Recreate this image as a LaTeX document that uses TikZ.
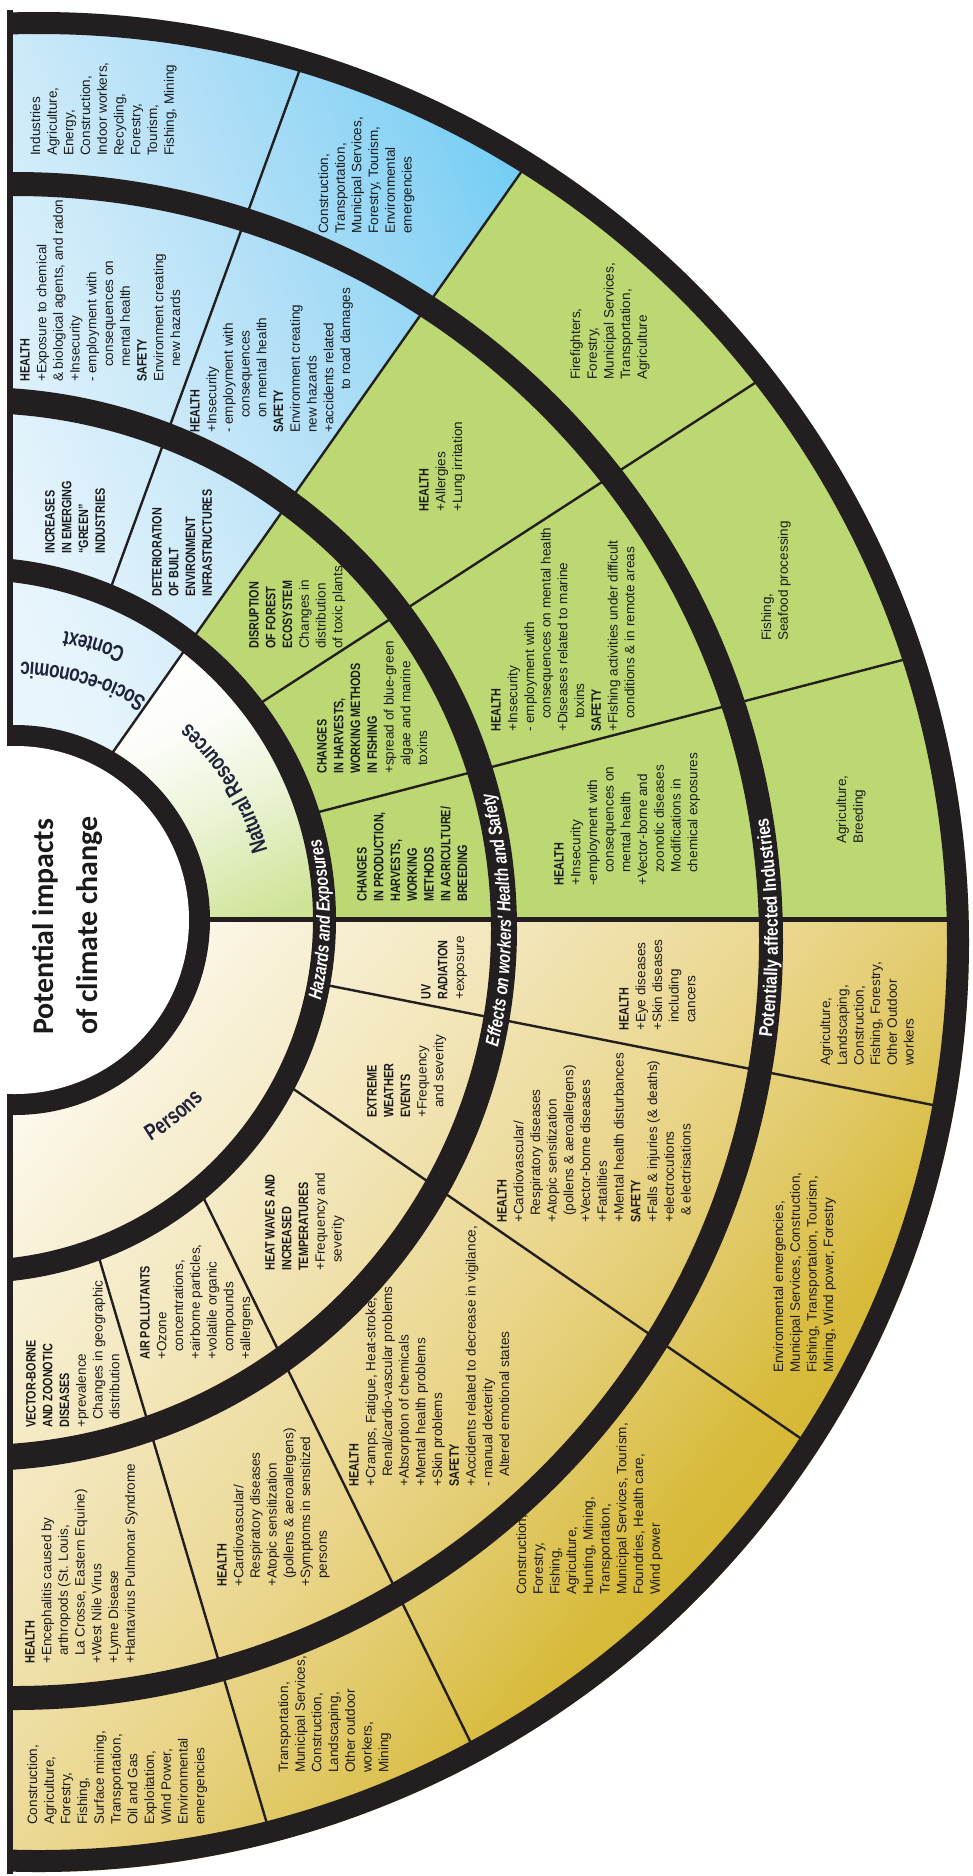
\documentclass[tikz,border=0pt]{standalone}
\usepackage{fontspec}
\setmainfont{Liberation Sans}
\newfontfamily\narrowfam[FakeStretch=0.8]{Liberation Sans}
\newfontfamily\labfam[FakeStretch=0.75]{Liberation Sans}
\newfontfamily\bandfam[FakeStretch=0.76]{Liberation Sans}
\newfontfamily\indfam[FakeStretch=0.82]{Liberation Sans}
\newfontfamily\titlefam{Carlito}
\usetikzlibrary{decorations.text}

\definecolor{bandc}{HTML}{231F20}
\definecolor{txt}{HTML}{1A1A1A}
\definecolor{navy}{HTML}{20243A}
\definecolor{grn}{HTML}{BCD873}
\definecolor{bl0}{HTML}{EEF7FD}
\definecolor{bl1}{HTML}{E6F4FC}
\definecolor{bl2}{HTML}{CFEBF9}
\definecolor{bl3}{HTML}{B4E0F7}
\definecolor{bl4}{HTML}{8DD4F5}
\definecolor{bl5}{HTML}{6ECCF4}
\definecolor{bl6}{HTML}{5FC7F2}
\definecolor{tn0}{HTML}{FEFCF6}
\definecolor{tn1}{HTML}{FDFAF0}
\definecolor{tn2}{HTML}{F8F1D8}
\definecolor{tn3}{HTML}{F3E7BD}
\definecolor{tn4}{HTML}{EDDC9E}
\definecolor{tn5}{HTML}{E8D384}
\definecolor{tn6}{HTML}{E0C864}
\definecolor{tn7}{HTML}{D8BB3C}
\definecolor{tn8}{HTML}{D4B52C}
\definecolor{gr0}{HTML}{FFFFFF}
\definecolor{gr1}{HTML}{FCFDF8}
\definecolor{gr2}{HTML}{EAF3D4}
\definecolor{gr3}{HTML}{CFE396}
\definecolor{gr4}{HTML}{C4DD84}

\pgfdeclarehorizontalshading{blueshade}{100bp}{color(0bp)=(bl0); color(37.5bp)=(bl0); color(41.6bp)=(bl1); color(45.5bp)=(bl2); color(49.3bp)=(bl3); color(54bp)=(bl4); color(57bp)=(bl5); color(60.7bp)=(bl6); color(100bp)=(bl6)}
\pgfdeclarehorizontalshading{tanshade}{100bp}{color(0bp)=(tn0); color(37.5bp)=(tn0); color(40.4bp)=(tn1); color(43.4bp)=(tn2); color(47.3bp)=(tn3); color(51.2bp)=(tn4); color(54.1bp)=(tn5); color(57bp)=(tn6); color(60bp)=(tn7); color(62.9bp)=(tn8); color(100bp)=(tn8)}
\pgfdeclarehorizontalshading{greenshade}{100bp}{color(0bp)=(gr0); color(37.5bp)=(gr0); color(39.7bp)=(gr1); color(42bp)=(gr2); color(44.9bp)=(gr3); color(48.7bp)=(gr4); color(100bp)=(gr4)}

\newcommand{\HB}[1]{{\narrowfam\bfseries #1}}
\newcommand{\Ind}[1]{\hspace*{#1bp}}
\newcommand{\cellfont}{\fontsize{13.6}{16.8}\selectfont}
\newcommand{\labfont}{\labfam\bfseries\fontsize{23}{27}\selectfont\color{navy}}
\newcommand{\bandfontI}{\bandfam\bfseries\itshape\fontsize{19}{22}\selectfont\color{white}}
\newcommand{\bandfontU}{\indfam\bfseries\fontsize{19}{22}\selectfont\color{white}}
\newcommand{\titlefont}{\titlefam\bfseries\fontsize{30}{36}\selectfont}

\tikzset{
  cell/.style={rotate=90, anchor=north west, inner sep=0pt, align=left, font=\cellfont, text=txt},
  divider/.style={draw=bandc, line width=2.4bp},
  hline/.style={draw=bandc, line width=5bp},
  band/.style={fill=bandc, even odd rule},
}

\begin{document}
\begin{tikzpicture}[x=1bp,y=1bp]
\useasboundingbox (0,0) rectangle (972,-1876);
\fill[white] (0,0) rectangle (972,-1876);
\coordinate (C0) at (15,-920);
\coordinate (C1) at (-27,-920);
\coordinate (C2) at (-25,-929);
\coordinate (C3) at (14,-941);
\coordinate (C4) at (39,-942);

\begin{scope}
\clip (7,0) rectangle (972,-1876);
% blue column
\begin{scope}
  \clip (7,100) -- (7,-902.6) -- (712.7,100) -- cycle;
  \clip (C4) circle[radius=930];
  \begin{scope}[transform canvas={rotate around={21.8:(0,-920)}}]
    \shade[shading=blueshade] (-500,-3420) rectangle (1500,1580);
  \end{scope}
\end{scope}
% green column
\begin{scope}
  \clip (7,-902.6) -- (712.7,100) -- (1000,100) -- (1000,-919) -- (7,-919) -- cycle;
  \fill[grn] (C4) circle[radius=930];
  \clip (C1) circle[radius=363];
  \begin{scope}[transform canvas={rotate around={-63.4:(150,-650)}}]
    \shade[shading=greenshade] (-350,-3150) rectangle (1650,1850);
  \end{scope}
\end{scope}
% tan column
\begin{scope}
  \clip (7,-919) -- (1000,-919) -- (1000,-1900) -- (7,-1900) -- cycle;
  \clip (C4) circle[radius=930];
  \begin{scope}[transform canvas={rotate around={-38.66:(0,-920)}}]
    \shade[shading=tanshade] (-500,-3420) rectangle (1500,1580);
  \end{scope}
\end{scope}

% dividers
\coordinate (d1a) at (110,-590);   \coordinate (d1b) at (300,-69);
\coordinate (d2a) at (108.4,-758.5); \coordinate (d2b) at (524,-168);
\coordinate (d3a) at (256,-706);   \coordinate (d3b) at (758,-381);
\coordinate (d8a) at (311,-814);   \coordinate (d8b) at (914,-657);
\coordinate (ha) at (200,-919);    \coordinate (hb) at (958,-919);
\coordinate (d4a) at (97.7,-1253.3); \coordinate (d4b) at (267.3,-1824.7);
\coordinate (d5a) at (201.5,-1193.8); \coordinate (d5b) at (472.5,-1746.2);
\coordinate (d6a) at (288.4,-1085.5); \coordinate (d6b) at (809.6,-1444.5);
\coordinate (d7a) at (323.2,-984.4); \coordinate (d7b) at (940,-1106.4);
\draw[divider] (d1a) -- (d1b);
\draw[divider] (d2a) -- (d2b);
\draw[divider] (d3a) -- (d3b);
\draw[divider] (d8a) -- (d8b);
\draw[hline] (ha) -- (hb);
\draw[divider] (d4a) -- (d4b);
\draw[divider] (d5a) -- (d5b);
\draw[divider] (d6a) -- (d6b);
\draw[divider] (d7a) -- (d7b);

% black bands
\path[band] (C4) circle[radius=930] (C4) circle[radius=908];
\path[band] (C3) circle[radius=769] (C3) circle[radius=745];
\path[band] (C2) circle[radius=542] (C2) circle[radius=516];
\path[band] (C1) circle[radius=363] (C1) circle[radius=340];
\fill[bandc] (7,-10) rectangle (13,-1874);
\fill[bandc] (C0) circle[radius=195];
\fill[white] (C0) circle[radius=174];
\end{scope}

% band labels
\path[decorate, decoration={text along path, text align=center,
  text={|\bandfontI|Hazards and Exposures}}]
  ([shift={(-40:357)}]C1) arc[start angle=-40, end angle=40, radius=357];
\path[decorate, decoration={text along path, text align=center,
  text={|\bandfontI|Effects on workers' Health and Safety}}]
  ([shift={(-30:536)}]C2) arc[start angle=-30, end angle=32, radius=536];
\path[decorate, decoration={text along path, text align=center,
  text={|\bandfontU|Potentially affected Industries}}]
  ([shift={(-20:764)}]C3) arc[start angle=-20, end angle=22, radius=764];

% ring 1 labels
\path[decorate, decoration={text along path, text align=center,
  text={|\labfont|Persons}}]
  ([shift={(-81:260)}]C0) arc[start angle=-81, end angle=-21, radius=260];
\path[decorate, decoration={text along path, text align=center,
  text={|\labfont|Natural Resources}}]
  ([shift={(2:262)}]C0) arc[start angle=2, end angle=62, radius=262];
\path[decorate, decoration={text along path, text align=center,
  text={|\labfont|Socio-economic}}]
  ([shift={(44:258)}]C0) arc[start angle=44, end angle=104, radius=258];
\path[decorate, decoration={text along path, text align=center,
  text={|\labfont|Context}}]
  ([shift={(50:293)}]C0) arc[start angle=50, end angle=98, radius=293];

% title
\node[rotate=90, anchor=base west, inner sep=0pt, font=\titlefont, text=txt] (t1) at (53,-1035) {Potential impacts};
\node[rotate=90, anchor=base west, inner sep=0pt, font=\titlefont, text=txt] (t2) at (97,-1035) {of climate change};

% ---- blue column texts
\node[cell] (ind1) at (30,-156) {Industries\\Agriculture,\\Energy,\\Construction,\\Indoor workers,\\Recycling,\\Forestry,\\Tourism,\\Fishing, Mining};
\node[cell] (ind2) at (318,-234) {Construction,\\Transportation,\\Municipal Services,\\Forestry, Tourism,\\Environmental\\emergencies};
\node[cell] (eff1) at (20,-382) {\HB{HEALTH}\\+Exposure to chemical\\\& biological agents, and radon\\+Insecurity\\- employment with\\\Ind{15}consequences on\\\Ind{15}mental health\\\HB{SAFETY}\\Environment creating\\\Ind{15}new hazards};
\node[cell] (eff2) at (190,-433) {\HB{HEALTH}\\+Insecurity\\- employment with\\\Ind{15}consequences\\\Ind{15}on mental health\\\HB{SAFETY}\\Environment creating\\new hazards\\+accidents related\\\Ind{43}to road damages};
\node[cell] (haz1) at (45,-554) {\HB{INCREASES}\\\HB{IN EMERGING}\\\HB{“GREEN”}\\\HB{INDUSTRIES}};
\node[cell] (haz2) at (152,-597) {\HB{DETERIORATION}\\\HB{OF BUILT}\\\HB{ENVIRONMENT}\\\HB{INFRASTRUCTURES}};

% ---- green column texts
\node[cell] (haz3) at (249,-649) {\HB{DISRUPTION}\\\HB{OF FOREST}\\\HB{ECOSYSTEM}\\Changes in\\distribution\\of toxic plants};
\node[cell] (haz4) at (317,-774) {\HB{CHANGES}\\\HB{IN HARVESTS,}\\\HB{WORKING METHODS}\\\HB{IN FISHING}\\+spread of blue-green\\\Ind{8}algae and marine\\\Ind{8}toxins};
\node[cell] (haz5) at (357,-902) {\HB{CHANGES}\\\HB{IN PRODUCTION,}\\\HB{HARVESTS,}\\\HB{WORKING}\\\HB{METHODS}\\\HB{IN AGRICULTURE/}\\\HB{BREEDING}};
\node[cell] (eff3) at (419,-512) {\HB{HEALTH}\\+Allergies\\+Lung irritation};
\node[cell] (eff4) at (491,-732) {\HB{HEALTH}\\+Insecurity\\- employment with\\\Ind{13}consequences on mental health\\+Diseases related to marine\\\Ind{13}toxins\\\HB{SAFETY}\\+Fishing activities under difficult\\\Ind{13}conditions \& in remote areas};
\node[cell] (eff5) at (554,-886) {\HB{HEALTH}\\+Insecurity\\-employment with\\\Ind{13}consequences on\\\Ind{13}mental health\\+Vector-borne and\\\Ind{13}zoonotic diseases\\\Ind{13}Modifications in\\\Ind{13}chemical exposures};
\node[cell] (ind3) at (570,-380) {Firefighters,\\Forestry,\\Municipal Services,\\Transportation,\\Agriculture};
\node[cell] (ind4) at (761,-641) {Fishing,\\Seafood processing};
\node[cell] (ind5) at (836,-844) {Agriculture,\\Breeding};

% ---- tan column texts
\node[cell] (haz6) at (421,-1000) {\HB{UV}\\\HB{RADIATION}\\+exposure};
\node[cell] (haz7) at (367,-1118) {\HB{EXTREME}\\\HB{WEATHER}\\\HB{EVENTS}\\+Frequency\\\Ind{10}and severity};
\node[cell] (haz8) at (265,-1271) {\HB{HEAT WAVES AND}\\\HB{INCREASED}\\\HB{TEMPERATURES}\\+Frequency and\\\Ind{8}severity};
\node[cell] (haz9) at (140,-1360) {\HB{AIR POLLUTANTS}\\+Ozone\\\Ind{8}concentrations,\\+airborne particles,\\+volatile organic\\\Ind{8}compounds\\+allergens};
\node[cell] (haz10) at (26,-1428) {\HB{VECTOR-BORNE}\\\HB{AND ZOONOTIC}\\\HB{DISEASES}\\+prevalence\\\Ind{8}Changes in geographic\\\Ind{8}distribution};
\node[cell] (eff6) at (619,-1031) {\HB{HEALTH}\\+Eye diseases\\+Skin diseases\\\Ind{8}including\\\Ind{8}cancers};
\node[cell] (eff7) at (497,-1223) {\HB{HEALTH}\\+Cardiovascular/\\\Ind{7}Respiratory diseases\\+Atopic sensitization\\\Ind{7}(pollens \& aeroallergens)\\+Vector-borne diseases\\+Fatalities\\+Mental health disturbances\\\HB{SAFETY}\\+Falls \& injuries (\& deaths)\\+electrocutions\\\Ind{7}\& electrisations};
\node[cell] (eff8) at (349,-1487) {\HB{HEALTH}\\+Cramps, Fatigue, Heat-stroke,\\\Ind{10}Renal/cardio-vascular problems\\+Absorption of chemicals\\+Mental health problems\\+Skin problems\\\HB{SAFETY}\\+Accidents related to decrease in vigilance,\\- manual dexterity\\\Ind{10}Altered emotional states};
\node[cell] (eff9) at (217,-1587) {\HB{HEALTH}\\+Cardiovascular/\\\Ind{8}Respiratory diseases\\+Atopic sensitization\\\Ind{8}(pollens \& aeroallergens)\\+Symptoms in sensitized\\\Ind{8}persons};
\node[cell] (eff10) at (25,-1664) {\HB{HEALTH}\\+Encephalitis caused by\\\Ind{8}arthropods (St. Louis,\\\Ind{8}La Crosse, Eastern Equine)\\+West Nile Virus\\+Lyme Disease\\+Hantavirus Pulmonar Syndrome};
\node[cell] (ind6) at (820,-1066) {Agriculture,\\Landscaping,\\Construction,\\Fishing, Forestry,\\Other Outdoor\\workers};
\node[cell] (ind7) at (773,-1373) {Environmental emergencies,\\Municipal Services, Construction,\\Fishing, Transportation, Tourism,\\Mining, Wind power, Forestry};
\node[cell] (ind8) at (516,-1595) {Construction,\\Forestry,\\Fishing,\\Agriculture,\\Hunting, Mining,\\Transportation,\\Municipal Services, Tourism,\\Foundries, Health care,\\Wind power};
\node[cell] (ind9) at (278,-1773) {Transportation,\\Municipal Services,\\Construction,\\Landscaping,\\Other outdoor\\workers,\\Mining};
\node[cell] (ind10) at (27,-1825) {Construction,\\Agriculture,\\Forestry,\\Fishing,\\Surface mining,\\Transportation,\\Oil and Gas\\Exploitation,\\Wind Power,\\Environmental\\emergencies};
\end{tikzpicture}
\end{document}
